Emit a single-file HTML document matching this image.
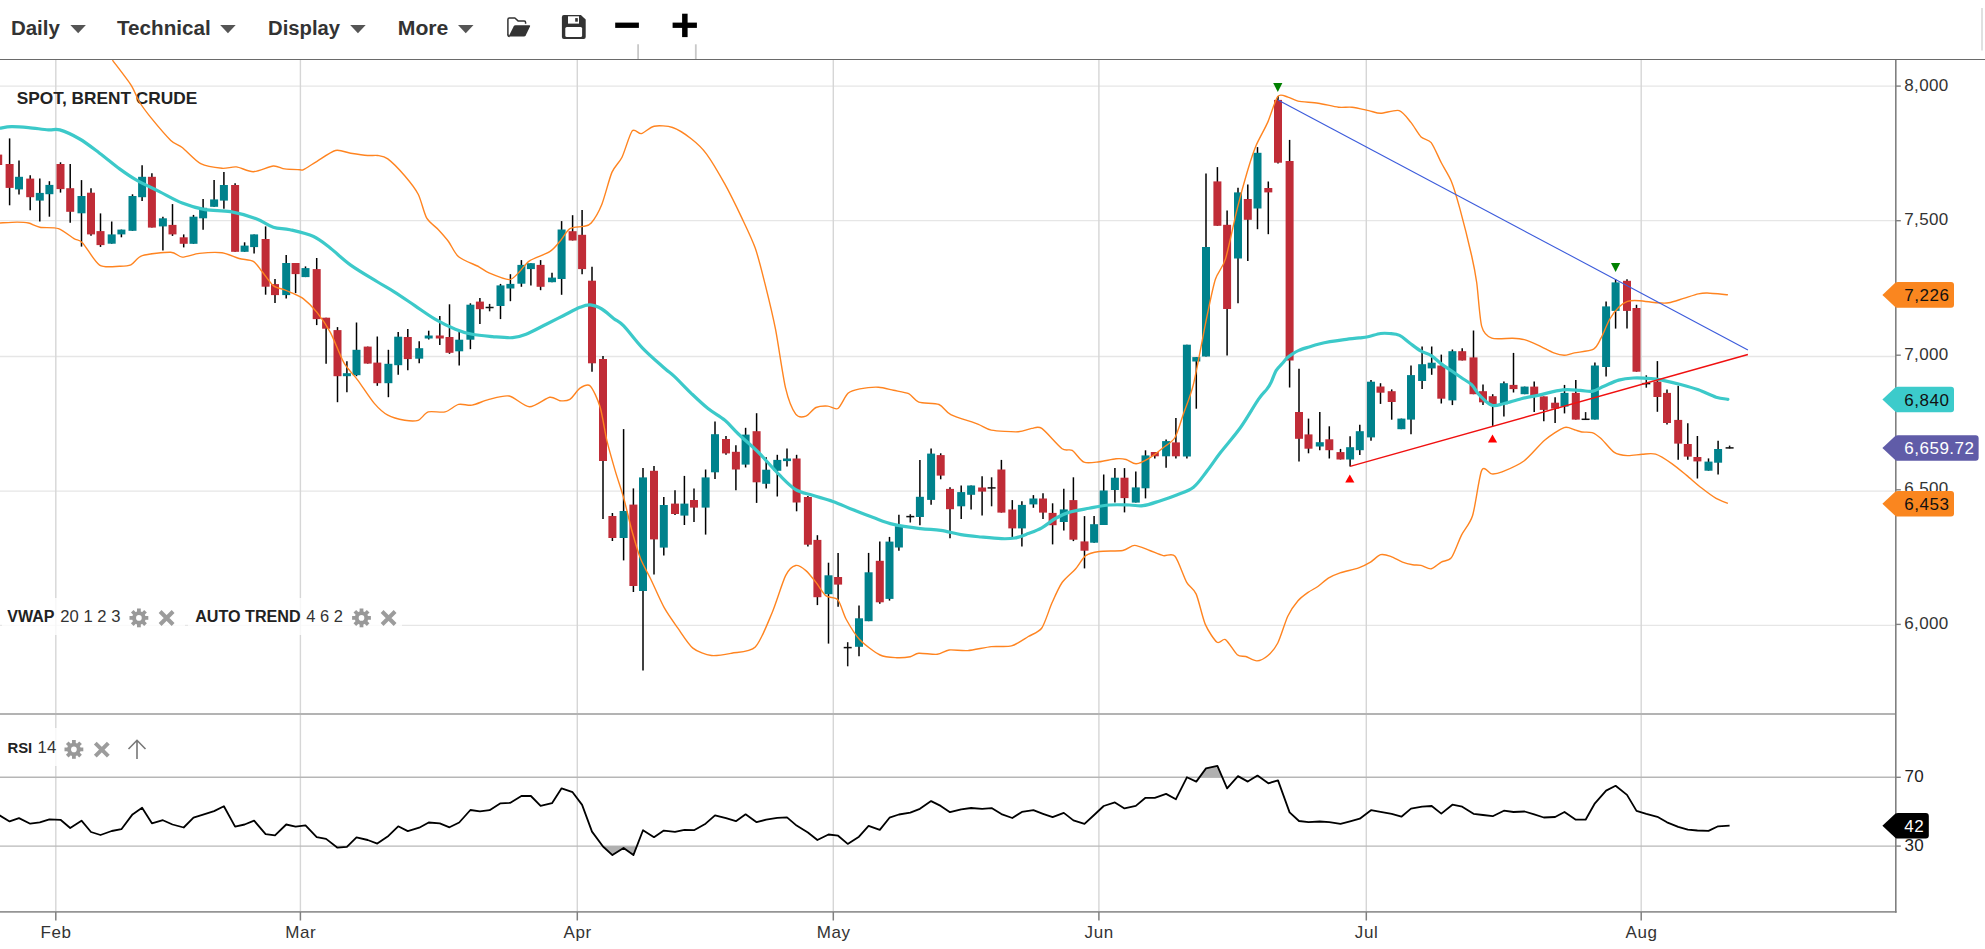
<!DOCTYPE html><html><head><meta charset="utf-8"><style>html,body{margin:0;padding:0;background:#fff;overflow:hidden;}svg{display:block;}text{font-family:"Liberation Sans",sans-serif;}</style></head><body>
<svg width="1985" height="949" viewBox="0 0 1985 949">
<rect width="1985" height="949" fill="#fff"/>
<line x1="0" y1="86.1" x2="1895.8" y2="86.1" stroke="#e6e6e6" stroke-width="1.4"/>
<line x1="0" y1="220.6" x2="1895.8" y2="220.6" stroke="#e6e6e6" stroke-width="1.4"/>
<line x1="0" y1="356.5" x2="1895.8" y2="356.5" stroke="#e6e6e6" stroke-width="1.4"/>
<line x1="0" y1="491.1" x2="1895.8" y2="491.1" stroke="#e6e6e6" stroke-width="1.4"/>
<line x1="0" y1="625.4" x2="1895.8" y2="625.4" stroke="#e6e6e6" stroke-width="1.4"/>
<line x1="55.8" y1="60" x2="55.8" y2="912" stroke="#d6d6d6" stroke-width="1.4"/>
<line x1="300.4" y1="60" x2="300.4" y2="912" stroke="#d6d6d6" stroke-width="1.4"/>
<line x1="577.3" y1="60" x2="577.3" y2="912" stroke="#d6d6d6" stroke-width="1.4"/>
<line x1="833.3" y1="60" x2="833.3" y2="912" stroke="#d6d6d6" stroke-width="1.4"/>
<line x1="1098.9" y1="60" x2="1098.9" y2="912" stroke="#d6d6d6" stroke-width="1.4"/>
<line x1="1366.3" y1="60" x2="1366.3" y2="912" stroke="#d6d6d6" stroke-width="1.4"/>
<line x1="1641.2" y1="60" x2="1641.2" y2="912" stroke="#d6d6d6" stroke-width="1.4"/>
<line x1="0" y1="777.3" x2="1895.8" y2="777.3" stroke="#b8b8b8" stroke-width="1.4"/>
<line x1="0" y1="846.1" x2="1895.8" y2="846.1" stroke="#b8b8b8" stroke-width="1.4"/>
<text x="16.8" y="104" font-size="17" font-weight="bold" fill="#222" textLength="180.5" lengthAdjust="spacingAndGlyphs">SPOT, BRENT CRUDE</text>
<line x1="-1.8" y1="152.0" x2="-1.8" y2="168.0" stroke="#000" stroke-width="1.5"/>
<rect x="-5.8" y="154.6" width="8" height="10.4" fill="#c02c37"/>
<line x1="9.6" y1="138.4" x2="9.6" y2="205.3" stroke="#000" stroke-width="1.5"/>
<rect x="5.6" y="164.0" width="8" height="23.9" fill="#c02c37"/>
<line x1="19.0" y1="160.6" x2="19.0" y2="194.5" stroke="#000" stroke-width="1.5"/>
<rect x="15.0" y="176.8" width="8" height="12.6" fill="#00828c"/>
<line x1="30.2" y1="175.3" x2="30.2" y2="210.3" stroke="#000" stroke-width="1.5"/>
<rect x="26.2" y="178.6" width="8" height="18.6" fill="#c02c37"/>
<line x1="39.8" y1="178.6" x2="39.8" y2="221.4" stroke="#000" stroke-width="1.5"/>
<rect x="35.8" y="192.9" width="8" height="7.7" fill="#00828c"/>
<line x1="49.4" y1="181.2" x2="49.4" y2="216.7" stroke="#000" stroke-width="1.5"/>
<rect x="45.4" y="184.9" width="8" height="9.3" fill="#00828c"/>
<line x1="60.5" y1="162.3" x2="60.5" y2="192.6" stroke="#000" stroke-width="1.5"/>
<rect x="56.5" y="164.0" width="8" height="25.1" fill="#c02c37"/>
<line x1="70.2" y1="164.0" x2="70.2" y2="222.8" stroke="#000" stroke-width="1.5"/>
<rect x="66.2" y="188.2" width="8" height="23.6" fill="#c02c37"/>
<line x1="81.5" y1="180.1" x2="81.5" y2="246.6" stroke="#000" stroke-width="1.5"/>
<rect x="77.5" y="196.0" width="8" height="17.3" fill="#00828c"/>
<line x1="91.0" y1="188.2" x2="91.0" y2="235.8" stroke="#000" stroke-width="1.5"/>
<rect x="87.0" y="192.7" width="8" height="41.7" fill="#c02c37"/>
<line x1="100.5" y1="213.4" x2="100.5" y2="246.9" stroke="#000" stroke-width="1.5"/>
<rect x="96.5" y="231.1" width="8" height="14.0" fill="#c02c37"/>
<line x1="111.7" y1="221.5" x2="111.7" y2="243.7" stroke="#000" stroke-width="1.5"/>
<rect x="107.7" y="234.4" width="8" height="9.3" fill="#00828c"/>
<line x1="121.4" y1="229.6" x2="121.4" y2="237.3" stroke="#000" stroke-width="1.5"/>
<rect x="117.4" y="229.6" width="8" height="4.8" fill="#00828c"/>
<line x1="132.5" y1="194.3" x2="132.5" y2="230.8" stroke="#000" stroke-width="1.5"/>
<rect x="128.5" y="196.0" width="8" height="34.8" fill="#00828c"/>
<line x1="142.1" y1="165.2" x2="142.1" y2="200.9" stroke="#000" stroke-width="1.5"/>
<rect x="138.1" y="176.8" width="8" height="20.4" fill="#00828c"/>
<line x1="151.9" y1="173.2" x2="151.9" y2="227.6" stroke="#000" stroke-width="1.5"/>
<rect x="147.9" y="176.8" width="8" height="50.8" fill="#c02c37"/>
<line x1="162.9" y1="216.7" x2="162.9" y2="250.6" stroke="#000" stroke-width="1.5"/>
<rect x="158.9" y="218.3" width="8" height="8.1" fill="#00828c"/>
<line x1="172.5" y1="204.1" x2="172.5" y2="235.9" stroke="#000" stroke-width="1.5"/>
<rect x="168.5" y="224.9" width="8" height="9.5" fill="#c02c37"/>
<line x1="183.7" y1="234.4" x2="183.7" y2="247.4" stroke="#000" stroke-width="1.5"/>
<rect x="179.7" y="237.3" width="8" height="6.5" fill="#c02c37"/>
<line x1="193.5" y1="214.9" x2="193.5" y2="243.8" stroke="#000" stroke-width="1.5"/>
<rect x="189.5" y="216.7" width="8" height="27.1" fill="#00828c"/>
<line x1="203.1" y1="199.1" x2="203.1" y2="229.7" stroke="#000" stroke-width="1.5"/>
<rect x="199.1" y="207.8" width="8" height="10.5" fill="#00828c"/>
<line x1="214.1" y1="179.9" x2="214.1" y2="206.8" stroke="#000" stroke-width="1.5"/>
<rect x="210.1" y="199.4" width="8" height="7.4" fill="#00828c"/>
<line x1="223.9" y1="172.1" x2="223.9" y2="208.7" stroke="#000" stroke-width="1.5"/>
<rect x="219.9" y="185.0" width="8" height="15.6" fill="#00828c"/>
<line x1="235.1" y1="183.2" x2="235.1" y2="251.8" stroke="#000" stroke-width="1.5"/>
<rect x="231.1" y="185.0" width="8" height="66.8" fill="#c02c37"/>
<line x1="244.6" y1="242.3" x2="244.6" y2="251.8" stroke="#000" stroke-width="1.5"/>
<rect x="240.6" y="245.6" width="8" height="6.2" fill="#00828c"/>
<line x1="254.1" y1="234.4" x2="254.1" y2="253.6" stroke="#000" stroke-width="1.5"/>
<rect x="250.1" y="234.4" width="8" height="12.7" fill="#00828c"/>
<line x1="265.6" y1="226.4" x2="265.6" y2="294.7" stroke="#000" stroke-width="1.5"/>
<rect x="261.6" y="239.0" width="8" height="47.7" fill="#c02c37"/>
<line x1="275.0" y1="279.1" x2="275.0" y2="303.1" stroke="#000" stroke-width="1.5"/>
<rect x="271.0" y="284.1" width="8" height="11.0" fill="#c02c37"/>
<line x1="286.2" y1="255.0" x2="286.2" y2="298.5" stroke="#000" stroke-width="1.5"/>
<rect x="282.2" y="263.0" width="8" height="32.1" fill="#00828c"/>
<line x1="295.6" y1="263.0" x2="295.6" y2="293.1" stroke="#000" stroke-width="1.5"/>
<rect x="291.6" y="263.0" width="8" height="11.1" fill="#c02c37"/>
<line x1="305.5" y1="266.4" x2="305.5" y2="277.1" stroke="#000" stroke-width="1.5"/>
<rect x="301.5" y="268.1" width="8" height="9.0" fill="#00828c"/>
<line x1="316.7" y1="258.0" x2="316.7" y2="325.1" stroke="#000" stroke-width="1.5"/>
<rect x="312.7" y="269.1" width="8" height="50.0" fill="#c02c37"/>
<line x1="326.1" y1="317.7" x2="326.1" y2="363.8" stroke="#000" stroke-width="1.5"/>
<rect x="322.1" y="317.7" width="8" height="11.0" fill="#c02c37"/>
<line x1="337.5" y1="327.1" x2="337.5" y2="402.2" stroke="#000" stroke-width="1.5"/>
<rect x="333.5" y="330.1" width="8" height="46.1" fill="#c02c37"/>
<line x1="346.9" y1="361.2" x2="346.9" y2="392.2" stroke="#000" stroke-width="1.5"/>
<rect x="342.9" y="373.2" width="8" height="3.0" fill="#00828c"/>
<line x1="356.5" y1="322.5" x2="356.5" y2="376.2" stroke="#000" stroke-width="1.5"/>
<rect x="352.5" y="349.8" width="8" height="25.4" fill="#00828c"/>
<line x1="367.7" y1="346.6" x2="367.7" y2="363.6" stroke="#000" stroke-width="1.5"/>
<rect x="363.7" y="346.6" width="8" height="17.0" fill="#c02c37"/>
<line x1="377.3" y1="336.5" x2="377.3" y2="385.8" stroke="#000" stroke-width="1.5"/>
<rect x="373.3" y="362.6" width="8" height="20.6" fill="#c02c37"/>
<line x1="388.4" y1="349.8" x2="388.4" y2="397.2" stroke="#000" stroke-width="1.5"/>
<rect x="384.4" y="363.8" width="8" height="19.4" fill="#00828c"/>
<line x1="398.2" y1="332.1" x2="398.2" y2="374.8" stroke="#000" stroke-width="1.5"/>
<rect x="394.2" y="336.7" width="8" height="28.5" fill="#00828c"/>
<line x1="407.8" y1="329.0" x2="407.8" y2="370.3" stroke="#000" stroke-width="1.5"/>
<rect x="403.8" y="337.0" width="8" height="22.1" fill="#c02c37"/>
<line x1="419.2" y1="341.2" x2="419.2" y2="363.3" stroke="#000" stroke-width="1.5"/>
<rect x="415.2" y="348.2" width="8" height="10.5" fill="#00828c"/>
<line x1="428.7" y1="330.7" x2="428.7" y2="339.5" stroke="#000" stroke-width="1.5"/>
<rect x="424.7" y="335.5" width="8" height="3.0" fill="#00828c"/>
<line x1="439.8" y1="315.9" x2="439.8" y2="345.0" stroke="#000" stroke-width="1.5"/>
<rect x="435.8" y="335.5" width="8" height="3.0" fill="#c02c37"/>
<line x1="449.5" y1="304.3" x2="449.5" y2="353.8" stroke="#000" stroke-width="1.5"/>
<rect x="445.5" y="337.0" width="8" height="15.8" fill="#c02c37"/>
<line x1="459.2" y1="331.7" x2="459.2" y2="365.4" stroke="#000" stroke-width="1.5"/>
<rect x="455.2" y="339.7" width="8" height="11.6" fill="#00828c"/>
<line x1="470.4" y1="303.3" x2="470.4" y2="349.2" stroke="#000" stroke-width="1.5"/>
<rect x="466.4" y="304.7" width="8" height="35.0" fill="#00828c"/>
<line x1="479.9" y1="298.0" x2="479.9" y2="323.9" stroke="#000" stroke-width="1.5"/>
<rect x="475.9" y="301.6" width="8" height="7.6" fill="#c02c37"/>
<line x1="489.6" y1="303.9" x2="489.6" y2="311.3" stroke="#111" stroke-width="1.5"/>
<line x1="485.6" y1="307.5" x2="493.6" y2="307.5" stroke="#111" stroke-width="1.5"/>
<line x1="500.5" y1="283.9" x2="500.5" y2="319.1" stroke="#000" stroke-width="1.5"/>
<rect x="496.5" y="285.4" width="8" height="20.6" fill="#00828c"/>
<line x1="510.4" y1="274.2" x2="510.4" y2="301.2" stroke="#000" stroke-width="1.5"/>
<rect x="506.4" y="283.9" width="8" height="4.6" fill="#00828c"/>
<line x1="521.4" y1="260.1" x2="521.4" y2="286.8" stroke="#000" stroke-width="1.5"/>
<rect x="517.4" y="264.9" width="8" height="18.8" fill="#00828c"/>
<line x1="530.9" y1="263.2" x2="530.9" y2="285.4" stroke="#000" stroke-width="1.5"/>
<rect x="526.9" y="263.2" width="8" height="5.9" fill="#00828c"/>
<line x1="540.6" y1="260.1" x2="540.6" y2="290.2" stroke="#000" stroke-width="1.5"/>
<rect x="536.6" y="264.9" width="8" height="21.9" fill="#c02c37"/>
<line x1="552.0" y1="272.7" x2="552.0" y2="282.2" stroke="#000" stroke-width="1.5"/>
<rect x="548.0" y="277.6" width="8" height="4.6" fill="#00828c"/>
<line x1="561.6" y1="221.1" x2="561.6" y2="294.8" stroke="#000" stroke-width="1.5"/>
<rect x="557.6" y="229.5" width="8" height="49.5" fill="#00828c"/>
<line x1="572.6" y1="215.2" x2="572.6" y2="240.5" stroke="#000" stroke-width="1.5"/>
<rect x="568.6" y="231.2" width="8" height="9.3" fill="#c02c37"/>
<line x1="582.1" y1="210.1" x2="582.1" y2="274.2" stroke="#000" stroke-width="1.5"/>
<rect x="578.1" y="234.8" width="8" height="34.3" fill="#c02c37"/>
<line x1="592.0" y1="266.8" x2="592.0" y2="371.8" stroke="#000" stroke-width="1.5"/>
<rect x="588.0" y="280.7" width="8" height="82.6" fill="#c02c37"/>
<line x1="603.0" y1="356.1" x2="603.0" y2="519.0" stroke="#000" stroke-width="1.5"/>
<rect x="599.0" y="359.0" width="8" height="102.0" fill="#c02c37"/>
<line x1="612.4" y1="513.0" x2="612.4" y2="541.0" stroke="#000" stroke-width="1.5"/>
<rect x="608.4" y="516.0" width="8" height="22.0" fill="#c02c37"/>
<line x1="623.6" y1="429.1" x2="623.6" y2="560.4" stroke="#000" stroke-width="1.5"/>
<rect x="619.6" y="511.0" width="8" height="27.0" fill="#00828c"/>
<line x1="633.4" y1="488.4" x2="633.4" y2="592.0" stroke="#000" stroke-width="1.5"/>
<rect x="629.4" y="504.6" width="8" height="81.4" fill="#c02c37"/>
<line x1="643.0" y1="468.0" x2="643.0" y2="670.6" stroke="#000" stroke-width="1.5"/>
<rect x="639.0" y="477.4" width="8" height="113.6" fill="#00828c"/>
<line x1="654.0" y1="466.1" x2="654.0" y2="574.6" stroke="#000" stroke-width="1.5"/>
<rect x="650.0" y="470.8" width="8" height="68.6" fill="#c02c37"/>
<line x1="663.8" y1="497.0" x2="663.8" y2="555.6" stroke="#000" stroke-width="1.5"/>
<rect x="659.8" y="505.0" width="8" height="42.6" fill="#00828c"/>
<line x1="675.0" y1="490.3" x2="675.0" y2="515.0" stroke="#000" stroke-width="1.5"/>
<rect x="671.0" y="503.6" width="8" height="10.4" fill="#c02c37"/>
<line x1="684.4" y1="475.9" x2="684.4" y2="525.0" stroke="#000" stroke-width="1.5"/>
<rect x="680.4" y="503.6" width="8" height="12.0" fill="#00828c"/>
<line x1="694.0" y1="488.4" x2="694.0" y2="522.0" stroke="#000" stroke-width="1.5"/>
<rect x="690.0" y="500.0" width="8" height="7.6" fill="#c02c37"/>
<line x1="705.6" y1="469.5" x2="705.6" y2="534.6" stroke="#000" stroke-width="1.5"/>
<rect x="701.6" y="477.4" width="8" height="30.2" fill="#00828c"/>
<line x1="715.0" y1="421.5" x2="715.0" y2="479.0" stroke="#000" stroke-width="1.5"/>
<rect x="711.0" y="434.2" width="8" height="38.1" fill="#00828c"/>
<line x1="726.0" y1="436.1" x2="726.0" y2="454.7" stroke="#000" stroke-width="1.5"/>
<rect x="722.0" y="439.0" width="8" height="14.4" fill="#c02c37"/>
<line x1="735.9" y1="445.2" x2="735.9" y2="490.3" stroke="#000" stroke-width="1.5"/>
<rect x="731.9" y="451.8" width="8" height="17.7" fill="#c02c37"/>
<line x1="745.6" y1="427.8" x2="745.6" y2="467.5" stroke="#000" stroke-width="1.5"/>
<rect x="741.6" y="434.6" width="8" height="30.0" fill="#00828c"/>
<line x1="756.6" y1="413.2" x2="756.6" y2="502.9" stroke="#000" stroke-width="1.5"/>
<rect x="752.6" y="431.2" width="8" height="51.1" fill="#c02c37"/>
<line x1="766.2" y1="457.3" x2="766.2" y2="488.5" stroke="#000" stroke-width="1.5"/>
<rect x="762.2" y="469.7" width="8" height="14.1" fill="#00828c"/>
<line x1="777.3" y1="454.8" x2="777.3" y2="496.5" stroke="#000" stroke-width="1.5"/>
<rect x="773.3" y="459.9" width="8" height="10.9" fill="#00828c"/>
<line x1="787.0" y1="448.6" x2="787.0" y2="466.6" stroke="#000" stroke-width="1.5"/>
<rect x="783.0" y="458.5" width="8" height="2.6" fill="#00828c"/>
<line x1="796.6" y1="454.8" x2="796.6" y2="511.3" stroke="#000" stroke-width="1.5"/>
<rect x="792.6" y="458.5" width="8" height="44.0" fill="#c02c37"/>
<line x1="807.9" y1="496.1" x2="807.9" y2="546.4" stroke="#000" stroke-width="1.5"/>
<rect x="803.9" y="497.0" width="8" height="47.7" fill="#c02c37"/>
<line x1="817.4" y1="535.2" x2="817.4" y2="605.1" stroke="#000" stroke-width="1.5"/>
<rect x="813.4" y="539.9" width="8" height="57.3" fill="#c02c37"/>
<line x1="828.5" y1="562.7" x2="828.5" y2="643.6" stroke="#000" stroke-width="1.5"/>
<rect x="824.5" y="575.3" width="8" height="18.9" fill="#00828c"/>
<line x1="838.1" y1="552.9" x2="838.1" y2="606.8" stroke="#000" stroke-width="1.5"/>
<rect x="834.1" y="577.0" width="8" height="7.6" fill="#c02c37"/>
<line x1="847.7" y1="642.2" x2="847.7" y2="666.3" stroke="#111" stroke-width="1.5"/>
<line x1="843.7" y1="647.6" x2="851.7" y2="647.6" stroke="#111" stroke-width="1.5"/>
<line x1="859.0" y1="605.5" x2="859.0" y2="656.2" stroke="#000" stroke-width="1.5"/>
<rect x="855.0" y="618.3" width="8" height="28.5" fill="#00828c"/>
<line x1="868.6" y1="552.9" x2="868.6" y2="621.2" stroke="#000" stroke-width="1.5"/>
<rect x="864.6" y="572.3" width="8" height="48.9" fill="#00828c"/>
<line x1="879.8" y1="541.6" x2="879.8" y2="603.8" stroke="#000" stroke-width="1.5"/>
<rect x="875.8" y="560.8" width="8" height="41.5" fill="#c02c37"/>
<line x1="889.5" y1="536.9" x2="889.5" y2="600.6" stroke="#000" stroke-width="1.5"/>
<rect x="885.5" y="541.6" width="8" height="57.3" fill="#00828c"/>
<line x1="898.9" y1="514.7" x2="898.9" y2="550.8" stroke="#000" stroke-width="1.5"/>
<rect x="894.9" y="526.2" width="8" height="21.3" fill="#00828c"/>
<line x1="910.3" y1="514.2" x2="910.3" y2="522.5" stroke="#111" stroke-width="1.5"/>
<line x1="906.3" y1="516.6" x2="914.3" y2="516.6" stroke="#111" stroke-width="1.5"/>
<line x1="919.9" y1="460.1" x2="919.9" y2="525.2" stroke="#000" stroke-width="1.5"/>
<rect x="915.9" y="496.8" width="8" height="20.2" fill="#00828c"/>
<line x1="931.1" y1="448.5" x2="931.1" y2="504.7" stroke="#000" stroke-width="1.5"/>
<rect x="927.1" y="453.6" width="8" height="46.3" fill="#00828c"/>
<line x1="940.7" y1="453.3" x2="940.7" y2="479.3" stroke="#000" stroke-width="1.5"/>
<rect x="936.7" y="455.1" width="8" height="20.5" fill="#c02c37"/>
<line x1="950.0" y1="487.3" x2="950.0" y2="538.2" stroke="#000" stroke-width="1.5"/>
<rect x="946.0" y="488.9" width="8" height="20.3" fill="#c02c37"/>
<line x1="961.2" y1="485.5" x2="961.2" y2="519.0" stroke="#000" stroke-width="1.5"/>
<rect x="957.2" y="492.1" width="8" height="14.2" fill="#00828c"/>
<line x1="971.1" y1="485.5" x2="971.1" y2="509.5" stroke="#000" stroke-width="1.5"/>
<rect x="967.1" y="485.5" width="8" height="9.3" fill="#00828c"/>
<line x1="982.1" y1="476.2" x2="982.1" y2="515.6" stroke="#000" stroke-width="1.5"/>
<rect x="978.1" y="487.5" width="8" height="4.1" fill="#c02c37"/>
<line x1="991.6" y1="477.3" x2="991.6" y2="506.3" stroke="#111" stroke-width="1.5"/>
<line x1="987.6" y1="487.9" x2="995.6" y2="487.9" stroke="#111" stroke-width="1.5"/>
<line x1="1001.4" y1="459.9" x2="1001.4" y2="512.6" stroke="#000" stroke-width="1.5"/>
<rect x="997.4" y="469.5" width="8" height="43.1" fill="#c02c37"/>
<line x1="1012.3" y1="500.1" x2="1012.3" y2="537.1" stroke="#000" stroke-width="1.5"/>
<rect x="1008.3" y="509.5" width="8" height="18.9" fill="#c02c37"/>
<line x1="1021.9" y1="501.2" x2="1021.9" y2="546.4" stroke="#000" stroke-width="1.5"/>
<rect x="1017.9" y="504.9" width="8" height="23.5" fill="#00828c"/>
<line x1="1033.4" y1="495.1" x2="1033.4" y2="507.8" stroke="#000" stroke-width="1.5"/>
<rect x="1029.4" y="498.5" width="8" height="5.9" fill="#00828c"/>
<line x1="1043.0" y1="493.3" x2="1043.0" y2="519.0" stroke="#000" stroke-width="1.5"/>
<rect x="1039.0" y="498.5" width="8" height="14.1" fill="#c02c37"/>
<line x1="1052.6" y1="503.3" x2="1052.6" y2="544.4" stroke="#000" stroke-width="1.5"/>
<rect x="1048.6" y="512.9" width="8" height="12.3" fill="#c02c37"/>
<line x1="1063.8" y1="488.8" x2="1063.8" y2="530.4" stroke="#000" stroke-width="1.5"/>
<rect x="1059.8" y="509.4" width="8" height="12.6" fill="#00828c"/>
<line x1="1073.4" y1="477.3" x2="1073.4" y2="541.1" stroke="#000" stroke-width="1.5"/>
<rect x="1069.4" y="500.1" width="8" height="39.6" fill="#c02c37"/>
<line x1="1084.5" y1="516.1" x2="1084.5" y2="568.4" stroke="#000" stroke-width="1.5"/>
<rect x="1080.5" y="541.4" width="8" height="9.3" fill="#c02c37"/>
<line x1="1094.1" y1="516.1" x2="1094.1" y2="542.7" stroke="#000" stroke-width="1.5"/>
<rect x="1090.1" y="524.2" width="8" height="18.5" fill="#00828c"/>
<line x1="1103.7" y1="474.5" x2="1103.7" y2="525.0" stroke="#000" stroke-width="1.5"/>
<rect x="1099.7" y="490.5" width="8" height="34.5" fill="#00828c"/>
<line x1="1114.9" y1="468.1" x2="1114.9" y2="502.6" stroke="#000" stroke-width="1.5"/>
<rect x="1110.9" y="477.7" width="8" height="12.3" fill="#00828c"/>
<line x1="1124.5" y1="468.1" x2="1124.5" y2="512.4" stroke="#000" stroke-width="1.5"/>
<rect x="1120.5" y="477.7" width="8" height="20.4" fill="#c02c37"/>
<line x1="1135.8" y1="471.4" x2="1135.8" y2="502.6" stroke="#000" stroke-width="1.5"/>
<rect x="1131.8" y="487.4" width="8" height="15.2" fill="#00828c"/>
<line x1="1145.5" y1="450.3" x2="1145.5" y2="498.4" stroke="#000" stroke-width="1.5"/>
<rect x="1141.5" y="455.4" width="8" height="32.9" fill="#00828c"/>
<line x1="1154.8" y1="452.0" x2="1154.8" y2="458.4" stroke="#000" stroke-width="1.5"/>
<rect x="1150.8" y="452.0" width="8" height="4.3" fill="#c02c37"/>
<line x1="1166.1" y1="439.4" x2="1166.1" y2="467.7" stroke="#000" stroke-width="1.5"/>
<rect x="1162.1" y="441.1" width="8" height="15.2" fill="#00828c"/>
<line x1="1175.9" y1="418.0" x2="1175.9" y2="458.4" stroke="#000" stroke-width="1.5"/>
<rect x="1171.9" y="442.4" width="8" height="13.9" fill="#c02c37"/>
<line x1="1186.9" y1="344.7" x2="1186.9" y2="458.4" stroke="#000" stroke-width="1.5"/>
<rect x="1182.9" y="344.7" width="8" height="111.8" fill="#00828c"/>
<line x1="1196.3" y1="357.1" x2="1196.3" y2="408.7" stroke="#000" stroke-width="1.5"/>
<rect x="1192.3" y="357.1" width="8" height="4.4" fill="#00828c"/>
<line x1="1206.0" y1="173.6" x2="1206.0" y2="356.5" stroke="#000" stroke-width="1.5"/>
<rect x="1202.0" y="247.0" width="8" height="109.5" fill="#00828c"/>
<line x1="1217.4" y1="167.1" x2="1217.4" y2="225.8" stroke="#000" stroke-width="1.5"/>
<rect x="1213.4" y="181.4" width="8" height="44.4" fill="#c02c37"/>
<line x1="1227.1" y1="210.5" x2="1227.1" y2="355.5" stroke="#000" stroke-width="1.5"/>
<rect x="1223.1" y="224.8" width="8" height="84.2" fill="#c02c37"/>
<line x1="1238.0" y1="187.8" x2="1238.0" y2="303.2" stroke="#000" stroke-width="1.5"/>
<rect x="1234.0" y="192.4" width="8" height="66.1" fill="#00828c"/>
<line x1="1247.8" y1="184.5" x2="1247.8" y2="261.1" stroke="#000" stroke-width="1.5"/>
<rect x="1243.8" y="199.0" width="8" height="20.8" fill="#c02c37"/>
<line x1="1257.5" y1="147.1" x2="1257.5" y2="229.2" stroke="#000" stroke-width="1.5"/>
<rect x="1253.5" y="152.8" width="8" height="55.7" fill="#00828c"/>
<line x1="1268.3" y1="181.5" x2="1268.3" y2="234.2" stroke="#000" stroke-width="1.5"/>
<rect x="1264.3" y="188.0" width="8" height="4.4" fill="#c02c37"/>
<line x1="1278.0" y1="96.0" x2="1278.0" y2="163.5" stroke="#000" stroke-width="1.5"/>
<rect x="1274.0" y="99.9" width="8" height="62.8" fill="#c02c37"/>
<line x1="1289.6" y1="139.9" x2="1289.6" y2="387.5" stroke="#000" stroke-width="1.5"/>
<rect x="1285.6" y="161.0" width="8" height="199.5" fill="#c02c37"/>
<line x1="1299.0" y1="368.8" x2="1299.0" y2="461.4" stroke="#000" stroke-width="1.5"/>
<rect x="1295.0" y="412.0" width="8" height="26.8" fill="#c02c37"/>
<line x1="1308.5" y1="418.6" x2="1308.5" y2="453.3" stroke="#000" stroke-width="1.5"/>
<rect x="1304.5" y="434.4" width="8" height="14.3" fill="#c02c37"/>
<line x1="1319.8" y1="412.0" x2="1319.8" y2="450.3" stroke="#000" stroke-width="1.5"/>
<rect x="1315.8" y="442.2" width="8" height="4.3" fill="#00828c"/>
<line x1="1329.3" y1="426.3" x2="1329.3" y2="458.5" stroke="#000" stroke-width="1.5"/>
<rect x="1325.3" y="439.3" width="8" height="10.9" fill="#c02c37"/>
<line x1="1340.5" y1="448.9" x2="1340.5" y2="459.5" stroke="#000" stroke-width="1.5"/>
<rect x="1336.5" y="452.1" width="8" height="7.4" fill="#c02c37"/>
<line x1="1350.1" y1="436.2" x2="1350.1" y2="466.6" stroke="#000" stroke-width="1.5"/>
<rect x="1346.1" y="447.2" width="8" height="12.3" fill="#00828c"/>
<line x1="1359.8" y1="424.8" x2="1359.8" y2="455.1" stroke="#000" stroke-width="1.5"/>
<rect x="1355.8" y="431.2" width="8" height="19.0" fill="#00828c"/>
<line x1="1371.0" y1="380.1" x2="1371.0" y2="440.8" stroke="#000" stroke-width="1.5"/>
<rect x="1367.0" y="381.7" width="8" height="55.7" fill="#00828c"/>
<line x1="1380.5" y1="383.2" x2="1380.5" y2="403.9" stroke="#000" stroke-width="1.5"/>
<rect x="1376.5" y="386.5" width="8" height="6.2" fill="#c02c37"/>
<line x1="1391.7" y1="389.4" x2="1391.7" y2="419.7" stroke="#000" stroke-width="1.5"/>
<rect x="1387.7" y="391.2" width="8" height="10.8" fill="#c02c37"/>
<line x1="1401.4" y1="418.6" x2="1401.4" y2="429.2" stroke="#000" stroke-width="1.5"/>
<rect x="1397.4" y="418.6" width="8" height="10.6" fill="#00828c"/>
<line x1="1411.0" y1="365.5" x2="1411.0" y2="434.2" stroke="#000" stroke-width="1.5"/>
<rect x="1407.0" y="375.1" width="8" height="44.5" fill="#00828c"/>
<line x1="1422.1" y1="346.5" x2="1422.1" y2="389.1" stroke="#000" stroke-width="1.5"/>
<rect x="1418.1" y="364.2" width="8" height="16.8" fill="#00828c"/>
<line x1="1431.7" y1="346.5" x2="1431.7" y2="374.8" stroke="#000" stroke-width="1.5"/>
<rect x="1427.7" y="362.7" width="8" height="5.7" fill="#00828c"/>
<line x1="1441.3" y1="354.6" x2="1441.3" y2="403.5" stroke="#000" stroke-width="1.5"/>
<rect x="1437.3" y="365.5" width="8" height="33.2" fill="#c02c37"/>
<line x1="1452.4" y1="349.5" x2="1452.4" y2="405.1" stroke="#000" stroke-width="1.5"/>
<rect x="1448.4" y="351.2" width="8" height="49.2" fill="#00828c"/>
<line x1="1462.2" y1="348.2" x2="1462.2" y2="360.5" stroke="#000" stroke-width="1.5"/>
<rect x="1458.2" y="351.2" width="8" height="9.3" fill="#c02c37"/>
<line x1="1473.5" y1="330.5" x2="1473.5" y2="394.2" stroke="#000" stroke-width="1.5"/>
<rect x="1469.5" y="357.4" width="8" height="36.8" fill="#c02c37"/>
<line x1="1483.0" y1="384.6" x2="1483.0" y2="405.1" stroke="#000" stroke-width="1.5"/>
<rect x="1479.0" y="391.2" width="8" height="11.1" fill="#c02c37"/>
<line x1="1492.7" y1="394.2" x2="1492.7" y2="425.9" stroke="#000" stroke-width="1.5"/>
<rect x="1488.7" y="396.2" width="8" height="8.1" fill="#c02c37"/>
<line x1="1503.9" y1="381.5" x2="1503.9" y2="416.4" stroke="#000" stroke-width="1.5"/>
<rect x="1499.9" y="383.2" width="8" height="21.1" fill="#00828c"/>
<line x1="1513.5" y1="352.9" x2="1513.5" y2="392.5" stroke="#000" stroke-width="1.5"/>
<rect x="1509.5" y="384.9" width="8" height="4.2" fill="#c02c37"/>
<line x1="1524.6" y1="386.6" x2="1524.6" y2="394.2" stroke="#000" stroke-width="1.5"/>
<rect x="1520.6" y="386.6" width="8" height="7.6" fill="#00828c"/>
<line x1="1534.2" y1="381.5" x2="1534.2" y2="411.9" stroke="#000" stroke-width="1.5"/>
<rect x="1530.2" y="386.6" width="8" height="9.8" fill="#c02c37"/>
<line x1="1543.8" y1="396.4" x2="1543.8" y2="421.2" stroke="#000" stroke-width="1.5"/>
<rect x="1539.8" y="396.4" width="8" height="13.5" fill="#c02c37"/>
<line x1="1555.1" y1="397.3" x2="1555.1" y2="423.0" stroke="#000" stroke-width="1.5"/>
<rect x="1551.1" y="402.7" width="8" height="5.9" fill="#c02c37"/>
<line x1="1564.5" y1="384.9" x2="1564.5" y2="413.4" stroke="#000" stroke-width="1.5"/>
<rect x="1560.5" y="392.9" width="8" height="13.7" fill="#00828c"/>
<line x1="1575.8" y1="380.1" x2="1575.8" y2="419.6" stroke="#000" stroke-width="1.5"/>
<rect x="1571.8" y="392.9" width="8" height="26.7" fill="#c02c37"/>
<line x1="1585.6" y1="412.1" x2="1585.6" y2="419.3" stroke="#111" stroke-width="1.5"/>
<line x1="1581.6" y1="419.3" x2="1589.6" y2="419.3" stroke="#111" stroke-width="1.5"/>
<line x1="1594.9" y1="362.5" x2="1594.9" y2="419.6" stroke="#000" stroke-width="1.5"/>
<rect x="1590.9" y="365.5" width="8" height="54.1" fill="#00828c"/>
<line x1="1606.1" y1="301.4" x2="1606.1" y2="376.4" stroke="#000" stroke-width="1.5"/>
<rect x="1602.1" y="306.4" width="8" height="60.6" fill="#00828c"/>
<line x1="1615.6" y1="279.2" x2="1615.6" y2="328.6" stroke="#000" stroke-width="1.5"/>
<rect x="1611.6" y="282.4" width="8" height="28.5" fill="#00828c"/>
<line x1="1627.0" y1="279.2" x2="1627.0" y2="328.6" stroke="#000" stroke-width="1.5"/>
<rect x="1623.0" y="280.8" width="8" height="30.1" fill="#c02c37"/>
<line x1="1636.5" y1="304.8" x2="1636.5" y2="371.7" stroke="#000" stroke-width="1.5"/>
<rect x="1632.5" y="308.0" width="8" height="63.7" fill="#c02c37"/>
<line x1="1646.3" y1="375.3" x2="1646.3" y2="387.7" stroke="#111" stroke-width="1.5"/>
<line x1="1642.3" y1="383.6" x2="1650.3" y2="383.6" stroke="#111" stroke-width="1.5"/>
<line x1="1657.4" y1="361.1" x2="1657.4" y2="411.8" stroke="#000" stroke-width="1.5"/>
<rect x="1653.4" y="381.6" width="8" height="15.4" fill="#c02c37"/>
<line x1="1667.0" y1="389.5" x2="1667.0" y2="424.4" stroke="#000" stroke-width="1.5"/>
<rect x="1663.0" y="392.9" width="8" height="30.1" fill="#c02c37"/>
<line x1="1678.2" y1="385.8" x2="1678.2" y2="459.7" stroke="#000" stroke-width="1.5"/>
<rect x="1674.2" y="419.9" width="8" height="23.7" fill="#c02c37"/>
<line x1="1687.8" y1="423.3" x2="1687.8" y2="459.7" stroke="#000" stroke-width="1.5"/>
<rect x="1683.8" y="444.0" width="8" height="12.6" fill="#c02c37"/>
<line x1="1697.4" y1="436.0" x2="1697.4" y2="478.5" stroke="#000" stroke-width="1.5"/>
<rect x="1693.4" y="457.0" width="8" height="4.4" fill="#c02c37"/>
<line x1="1708.5" y1="458.4" x2="1708.5" y2="470.7" stroke="#000" stroke-width="1.5"/>
<rect x="1704.5" y="461.6" width="8" height="9.1" fill="#00828c"/>
<line x1="1718.1" y1="440.8" x2="1718.1" y2="474.4" stroke="#000" stroke-width="1.5"/>
<rect x="1714.1" y="449.0" width="8" height="13.7" fill="#00828c"/>
<line x1="1729.6" y1="445.6" x2="1729.6" y2="448.4" stroke="#111" stroke-width="1.5"/>
<line x1="1725.6" y1="447.9" x2="1733.6" y2="447.9" stroke="#111" stroke-width="1.5"/>
<path d="M112.40,60.10 C114.87,63.41 127.29,79.31 130.90,84.90 C134.51,90.49 136.83,97.64 139.50,102.00 C142.17,106.36 146.73,112.48 150.90,117.60 C155.07,122.72 166.63,136.41 170.80,140.40 C174.97,144.39 178.21,144.39 182.20,147.50 C186.19,150.61 195.39,160.93 200.70,163.70 C206.01,166.47 217.25,167.87 222.00,168.30 C226.75,168.73 232.13,166.45 236.30,166.90 C240.47,167.35 248.37,171.82 253.30,171.70 C258.23,171.58 269.11,166.37 273.30,166.00 C277.49,165.63 281.14,168.41 284.70,168.90 C288.26,169.39 297.49,169.59 300.00,169.70 C302.51,169.81 301.23,170.82 303.50,169.70 C305.77,168.58 312.73,163.86 317.00,161.30 C321.27,158.74 331.01,151.58 335.50,150.50 C339.99,149.42 346.42,152.53 350.70,153.20 C354.98,153.87 364.00,155.19 367.60,155.50 C371.20,155.81 375.01,155.05 377.70,155.50 C380.39,155.95 384.20,156.19 387.80,158.90 C391.40,161.61 400.65,171.08 404.70,175.80 C408.75,180.52 415.28,188.69 418.20,194.30 C421.12,199.91 423.91,213.18 426.60,217.90 C429.29,222.62 435.48,226.55 438.40,229.70 C441.32,232.85 445.81,237.90 448.50,241.50 C451.19,245.10 454.55,253.33 458.60,256.70 C462.65,260.07 474.85,264.64 478.90,266.80 C482.95,268.96 484.96,271.19 489.00,272.90 C493.04,274.61 505.16,279.73 509.20,279.60 C513.24,279.47 516.59,274.41 519.30,271.90 C522.01,269.39 525.45,263.49 529.50,260.80 C533.55,258.11 545.66,254.27 549.70,251.70 C553.74,249.13 557.11,244.57 559.80,241.50 C562.49,238.43 566.75,230.71 569.90,228.70 C573.05,226.69 580.56,227.16 583.40,226.40 C586.24,225.64 588.75,225.93 591.20,223.00 C593.65,220.07 599.04,211.15 601.80,204.40 C604.56,197.65 609.21,178.69 611.90,172.40 C614.59,166.11 619.29,162.73 622.00,157.20 C624.71,151.67 629.63,134.05 632.20,130.90 C634.77,127.75 638.38,134.23 641.30,133.60 C644.22,132.97 649.93,127.01 654.10,126.20 C658.27,125.39 667.65,125.83 672.60,127.50 C677.55,129.17 686.69,135.19 691.20,138.70 C695.71,142.21 701.91,147.73 706.40,153.80 C710.89,159.87 720.18,175.65 724.90,184.20 C729.62,192.75 737.75,209.35 741.80,217.90 C745.85,226.45 752.15,239.30 755.30,248.30 C758.45,257.30 762.71,274.61 765.40,285.40 C768.09,296.19 772.81,315.49 775.50,329.20 C778.19,342.91 782.91,376.87 785.60,388.20 C788.29,399.53 792.99,410.47 795.70,414.20 C798.41,417.93 803.19,417.09 805.90,416.20 C808.61,415.31 813.08,408.85 816.00,407.50 C818.92,406.15 824.88,405.97 827.80,406.10 C830.72,406.23 835.21,410.21 837.90,408.50 C840.59,406.79 845.08,395.91 848.00,393.30 C850.92,390.69 855.75,389.71 859.80,388.90 C863.85,388.09 873.91,387.01 878.40,387.20 C882.89,387.39 889.46,389.43 893.50,390.30 C897.54,391.17 905.33,392.13 908.70,393.70 C912.07,395.27 914.76,400.66 918.80,402.10 C922.84,403.54 934.73,402.83 939.00,404.50 C943.27,406.17 945.63,411.99 950.80,414.60 C955.97,417.21 972.40,422.03 977.80,424.10 C983.20,426.17 985.91,429.07 991.30,430.10 C996.69,431.13 1012.81,432.03 1018.20,431.80 C1023.59,431.57 1028.55,428.85 1031.70,428.40 C1034.85,427.95 1037.75,425.69 1041.80,428.40 C1045.85,431.11 1058.05,445.77 1062.10,448.70 C1066.15,451.63 1069.28,448.60 1072.20,450.40 C1075.12,452.20 1080.40,460.68 1084.00,462.20 C1087.60,463.72 1094.93,462.25 1099.20,461.80 C1103.47,461.35 1112.41,459.11 1116.00,458.80 C1119.59,458.49 1123.41,458.83 1126.10,459.50 C1128.79,460.17 1133.05,464.03 1136.20,463.80 C1139.35,463.57 1146.10,459.95 1149.70,457.80 C1153.30,455.65 1159.83,450.41 1163.20,447.70 C1166.57,444.99 1172.31,442.01 1175.00,437.50 C1177.69,432.99 1180.92,421.09 1183.40,413.90 C1185.88,406.71 1190.45,396.63 1193.60,383.60 C1196.75,370.57 1204.09,330.12 1207.00,316.20 C1209.91,302.28 1212.93,286.84 1215.40,279.20 C1217.87,271.56 1222.58,268.34 1225.50,258.90 C1228.42,249.46 1234.38,220.08 1237.30,208.40 C1240.22,196.72 1244.92,179.62 1247.40,171.30 C1249.88,162.98 1253.19,152.52 1255.90,146.00 C1258.61,139.48 1264.78,129.01 1267.70,122.40 C1270.62,115.79 1275.11,99.77 1277.80,96.40 C1280.49,93.03 1285.21,96.47 1287.90,97.10 C1290.59,97.73 1293.96,100.29 1298.00,101.10 C1302.04,101.91 1312.80,102.39 1318.20,103.20 C1323.60,104.01 1333.99,106.67 1338.50,107.20 C1343.01,107.73 1347.96,106.75 1352.00,107.20 C1356.04,107.65 1364.99,109.79 1368.80,110.60 C1372.61,111.41 1376.55,113.30 1380.60,113.30 C1384.65,113.30 1395.16,109.39 1399.20,110.60 C1403.24,111.81 1407.98,118.89 1410.90,122.40 C1413.82,125.91 1418.39,134.21 1421.10,136.90 C1423.81,139.59 1428.51,139.15 1431.20,142.60 C1433.89,146.05 1438.61,157.63 1441.30,162.80 C1443.99,167.97 1448.93,175.32 1451.40,181.40 C1453.87,187.48 1457.11,198.52 1459.80,208.40 C1462.49,218.28 1469.35,245.62 1471.60,255.50 C1473.85,265.38 1475.35,273.05 1476.70,282.50 C1478.05,291.95 1479.69,318.97 1481.70,326.40 C1483.71,333.83 1487.69,336.63 1491.80,338.20 C1495.91,339.77 1508.17,338.00 1512.50,338.20 C1516.83,338.40 1520.77,338.71 1524.30,339.70 C1527.83,340.69 1535.07,343.84 1539.00,345.60 C1542.93,347.36 1550.45,351.61 1553.80,352.90 C1557.15,354.19 1561.35,355.30 1564.10,355.30 C1566.85,355.30 1570.47,353.73 1574.40,352.90 C1578.33,352.07 1590.05,351.06 1593.60,349.10 C1597.15,347.14 1598.84,342.21 1601.00,338.20 C1603.16,334.19 1607.44,323.13 1609.80,319.00 C1612.16,314.87 1616.34,309.56 1618.70,307.20 C1621.06,304.84 1624.75,302.17 1627.50,301.30 C1630.25,300.43 1635.37,300.50 1639.30,300.70 C1643.23,300.90 1653.07,302.52 1657.00,302.80 C1660.93,303.08 1665.25,303.39 1668.80,302.80 C1672.35,302.21 1679.65,299.59 1683.60,298.40 C1687.55,297.21 1695.25,294.62 1698.40,293.90 C1701.55,293.18 1703.27,292.88 1707.20,293.00 C1711.13,293.12 1725.14,294.56 1727.90,294.80" fill="none" stroke="#ff8420" stroke-width="1.4" stroke-linejoin="round"/>
<path d="M0.00,223.00 C2.28,222.88 13.30,222.10 17.10,222.10 C20.90,222.10 25.46,222.32 28.50,223.00 C31.54,223.68 35.91,226.45 39.90,227.20 C43.89,227.95 53.85,227.08 58.40,228.60 C62.95,230.12 70.77,236.69 74.00,238.60 C77.23,240.51 79.19,239.37 82.60,242.90 C86.01,246.43 94.67,261.99 99.60,265.10 C104.53,268.21 115.43,266.24 119.60,266.20 C123.77,266.16 127.87,266.20 130.90,264.80 C133.93,263.40 136.98,257.37 142.30,255.70 C147.62,254.03 165.48,252.11 170.80,252.30 C176.12,252.49 178.40,256.95 182.20,257.10 C186.00,257.25 193.99,253.97 199.30,253.40 C204.61,252.83 216.69,252.12 222.00,252.80 C227.31,253.48 234.93,257.35 239.10,258.50 C243.27,259.65 250.26,259.69 253.30,261.40 C256.34,263.11 259.23,268.07 261.90,271.30 C264.57,274.53 270.26,283.13 273.30,285.60 C276.34,288.07 282.47,288.93 284.70,289.80 C286.93,290.67 287.49,290.89 290.00,292.10 C292.51,293.31 299.90,296.19 303.50,298.90 C307.10,301.61 313.40,307.91 317.00,312.40 C320.60,316.89 326.90,325.87 330.50,332.60 C334.10,339.33 340.40,356.61 344.00,362.90 C347.60,369.19 353.46,374.40 357.50,379.80 C361.54,385.20 370.26,398.68 374.30,403.40 C378.34,408.12 383.75,412.95 387.80,415.20 C391.85,417.45 400.65,419.62 404.70,420.30 C408.75,420.98 415.05,421.42 418.20,420.30 C421.35,419.18 424.71,413.02 428.30,411.90 C431.89,410.78 441.06,412.90 445.10,411.90 C449.14,410.90 455.00,405.31 458.60,404.40 C462.20,403.49 468.05,405.77 472.10,405.10 C476.15,404.43 484.05,400.61 489.00,399.40 C493.95,398.19 503.80,395.01 509.20,396.00 C514.60,396.99 524.10,406.63 529.50,406.80 C534.90,406.97 545.66,398.11 549.70,397.30 C553.74,396.49 557.11,400.42 559.80,400.70 C562.49,400.98 567.21,401.07 569.90,399.40 C572.59,397.73 577.29,390.00 580.00,388.20 C582.71,386.40 587.52,383.39 590.20,385.90 C592.88,388.41 597.87,399.69 600.10,407.00 C602.33,414.31 604.87,432.15 606.90,440.70 C608.93,449.25 613.06,463.46 615.30,471.10 C617.54,478.74 621.45,489.91 623.70,498.00 C625.95,506.09 629.95,523.69 632.20,531.80 C634.45,539.91 638.13,552.51 640.60,558.80 C643.07,565.09 647.55,572.48 650.70,579.00 C653.85,585.52 660.60,601.18 664.20,607.70 C667.80,614.22 673.87,622.51 677.70,627.90 C681.53,633.29 688.41,644.42 692.90,648.10 C697.39,651.78 706.23,654.82 711.40,655.50 C716.57,656.18 725.85,654.32 731.70,653.20 C737.55,652.08 749.91,652.50 755.30,647.10 C760.69,641.70 768.06,622.23 772.10,612.70 C776.14,603.17 782.45,581.89 785.60,575.60 C788.75,569.31 792.99,566.17 795.70,565.50 C798.41,564.83 803.19,568.35 805.90,570.60 C808.61,572.85 813.31,579.03 816.00,582.40 C818.69,585.77 823.18,593.57 826.10,595.90 C829.02,598.23 835.21,596.75 837.90,599.90 C840.59,603.05 843.38,614.19 846.30,619.50 C849.22,624.81 855.29,634.97 859.80,639.70 C864.31,644.43 875.15,652.60 880.10,655.00 C885.05,657.40 892.87,657.47 896.90,657.70 C900.93,657.93 907.38,657.29 910.30,656.70 C913.22,656.11 915.20,653.62 918.80,653.30 C922.40,652.98 933.26,654.74 937.30,654.30 C941.34,653.86 945.05,650.49 949.10,650.00 C953.15,649.51 962.07,651.05 967.70,650.60 C973.33,650.15 985.46,647.23 991.30,646.60 C997.14,645.97 1006.57,647.25 1011.50,645.90 C1016.43,644.55 1024.26,638.89 1028.30,636.50 C1032.34,634.11 1038.64,632.49 1041.80,628.00 C1044.96,623.51 1049.29,608.87 1052.00,602.80 C1054.71,596.73 1058.97,587.01 1062.10,582.50 C1065.23,577.99 1072.35,572.59 1075.50,569.00 C1078.65,565.41 1082.54,557.93 1085.70,555.60 C1088.86,553.27 1094.25,552.18 1099.20,551.50 C1104.15,550.82 1118.08,551.31 1122.80,550.50 C1127.52,549.69 1131.01,545.40 1134.60,545.40 C1138.19,545.40 1145.89,549.14 1149.70,550.50 C1153.51,551.86 1159.83,554.84 1163.20,555.60 C1166.57,556.36 1171.87,552.64 1175.00,556.20 C1178.13,559.76 1183.87,577.25 1186.70,582.30 C1189.53,587.35 1193.72,588.49 1196.20,594.10 C1198.68,599.71 1202.51,617.97 1205.30,624.40 C1208.09,630.83 1214.41,640.27 1217.10,642.30 C1219.79,644.33 1222.81,637.93 1225.50,639.60 C1228.19,641.27 1234.61,652.55 1237.30,654.80 C1239.99,657.05 1243.09,655.69 1245.70,656.50 C1248.31,657.31 1253.97,660.99 1256.90,660.90 C1259.83,660.81 1264.91,658.19 1267.70,655.80 C1270.49,653.41 1275.11,648.31 1277.80,643.00 C1280.49,637.69 1285.21,621.63 1287.90,616.00 C1290.59,610.37 1295.31,603.95 1298.00,600.80 C1300.69,597.65 1305.41,594.33 1308.10,592.40 C1310.79,590.47 1315.51,588.19 1318.20,586.30 C1320.89,584.41 1325.38,579.99 1328.30,578.20 C1331.22,576.41 1336.05,574.29 1340.10,572.90 C1344.15,571.51 1354.65,569.24 1358.70,567.80 C1362.75,566.36 1367.58,563.85 1370.50,562.10 C1373.42,560.35 1377.91,555.47 1380.60,554.70 C1383.29,553.93 1387.78,555.31 1390.70,556.30 C1393.62,557.29 1399.58,560.97 1402.50,562.10 C1405.42,563.23 1410.12,564.36 1412.60,564.80 C1415.08,565.24 1418.62,564.87 1421.10,565.40 C1423.58,565.93 1428.51,569.24 1431.20,568.80 C1433.89,568.36 1438.61,563.58 1441.30,562.10 C1443.99,560.62 1448.71,561.30 1451.40,557.70 C1454.09,554.10 1458.67,540.73 1461.50,535.10 C1464.33,529.47 1469.91,524.13 1472.60,515.50 C1475.29,506.87 1479.14,475.95 1481.70,470.40 C1484.26,464.85 1489.08,473.70 1491.80,473.90 C1494.52,474.10 1497.77,473.66 1502.10,471.90 C1506.43,470.14 1518.59,464.95 1524.30,460.70 C1530.01,456.45 1539.59,444.41 1544.90,440.00 C1550.21,435.59 1560.17,428.97 1564.10,427.60 C1568.03,426.23 1572.04,429.11 1574.40,429.70 C1576.76,430.29 1579.44,431.61 1581.80,432.00 C1584.16,432.39 1589.54,431.73 1592.10,432.60 C1594.66,433.47 1598.04,435.86 1601.00,438.50 C1603.96,441.14 1610.77,450.12 1614.30,452.40 C1617.83,454.68 1623.77,455.36 1627.50,455.60 C1631.23,455.84 1638.55,454.39 1642.30,454.20 C1646.05,454.01 1651.67,452.95 1655.60,454.20 C1659.53,455.45 1667.67,460.77 1671.80,463.60 C1675.93,466.43 1682.67,472.17 1686.60,475.40 C1690.53,478.63 1697.37,484.73 1701.30,487.80 C1705.23,490.87 1712.55,496.32 1716.10,498.40 C1719.65,500.48 1726.33,502.73 1727.90,503.40" fill="none" stroke="#ff8420" stroke-width="1.4" stroke-linejoin="round"/>
<path d="M0.00,128.20 C1.90,127.95 6.65,126.80 11.40,126.70 C16.15,126.60 22.33,127.07 28.50,127.60 C34.67,128.13 43.18,129.52 48.40,129.90 C53.62,130.28 54.58,128.38 59.80,129.90 C65.02,131.42 73.07,135.12 79.70,139.00 C86.33,142.88 92.95,148.22 99.60,153.20 C106.25,158.18 113.43,164.40 119.60,168.90 C125.77,173.40 129.97,176.42 136.60,180.20 C143.23,183.98 151.80,187.80 159.40,191.60 C167.00,195.40 174.60,200.00 182.20,203.00 C189.80,206.00 196.93,208.17 205.00,209.60 C213.07,211.03 222.07,210.08 230.60,211.60 C239.13,213.12 249.08,216.10 256.20,218.70 C263.32,221.30 267.67,225.37 273.30,227.20 C278.93,229.03 283.28,228.15 290.00,229.70 C296.72,231.25 306.85,233.40 313.60,236.50 C320.35,239.60 324.32,243.53 330.50,248.30 C336.68,253.07 342.83,259.48 350.70,265.10 C358.57,270.72 370.38,277.50 377.70,282.00 C385.02,286.50 388.42,288.17 394.60,292.10 C400.78,296.03 408.07,301.10 414.80,305.60 C421.53,310.10 428.25,315.17 435.00,319.10 C441.75,323.03 449.12,326.67 455.30,329.20 C461.48,331.73 465.92,333.07 472.10,334.30 C478.28,335.53 485.65,336.03 492.40,336.60 C499.15,337.17 506.98,338.08 512.60,337.70 C518.22,337.32 520.48,336.55 526.10,334.30 C531.72,332.05 540.12,327.30 546.30,324.20 C552.48,321.10 557.58,318.52 563.20,315.70 C568.82,312.88 575.50,309.10 580.00,307.30 C584.50,305.50 586.57,304.62 590.20,304.90 C593.83,305.18 597.90,306.75 601.80,309.00 C605.70,311.25 609.95,315.58 613.60,318.40 C617.25,321.22 618.92,321.00 623.70,325.90 C628.48,330.80 635.55,340.78 642.30,347.80 C649.05,354.82 658.87,363.23 664.20,368.00 C669.53,372.77 669.80,372.18 674.30,376.40 C678.80,380.62 685.58,387.95 691.20,393.30 C696.82,398.65 702.38,404.00 708.00,408.50 C713.62,413.00 719.83,416.05 724.90,420.30 C729.97,424.55 732.78,428.63 738.40,434.00 C744.02,439.37 751.85,445.77 758.60,452.50 C765.35,459.23 772.72,468.22 778.90,474.40 C785.08,480.58 790.08,486.12 795.70,489.60 C801.32,493.08 806.42,493.33 812.60,495.30 C818.78,497.27 826.05,498.98 832.80,501.40 C839.55,503.82 846.35,507.10 853.10,509.80 C859.85,512.50 866.57,515.17 873.30,517.60 C880.03,520.03 885.63,522.57 893.50,524.40 C901.37,526.23 912.63,527.62 920.50,528.60 C928.37,529.58 933.97,529.30 940.70,530.30 C947.43,531.30 954.17,533.48 960.90,534.60 C967.63,535.72 974.35,536.32 981.10,537.00 C987.85,537.68 995.77,538.53 1001.40,538.70 C1007.03,538.87 1010.42,538.85 1014.90,538.00 C1019.38,537.15 1023.82,535.28 1028.30,533.60 C1032.78,531.92 1037.30,530.42 1041.80,527.90 C1046.30,525.38 1050.80,521.08 1055.30,518.50 C1059.80,515.92 1063.18,514.10 1068.80,512.40 C1074.42,510.70 1082.25,509.53 1089.00,508.30 C1095.75,507.07 1102.55,505.55 1109.30,505.00 C1116.05,504.45 1123.88,504.88 1129.50,505.00 C1135.12,505.12 1137.95,506.38 1143.00,505.70 C1148.05,505.02 1154.18,502.70 1159.80,500.90 C1165.42,499.10 1171.08,497.18 1176.70,494.90 C1182.32,492.62 1188.45,491.18 1193.50,487.20 C1198.55,483.22 1202.50,476.78 1207.00,471.00 C1211.50,465.22 1214.88,459.80 1220.50,452.50 C1226.12,445.20 1234.38,436.07 1240.70,427.20 C1247.02,418.33 1254.03,405.65 1258.40,399.30 C1262.77,392.95 1264.78,391.92 1266.90,389.10 C1269.02,386.28 1269.57,385.48 1271.10,382.40 C1272.63,379.32 1274.28,373.70 1276.10,370.60 C1277.92,367.50 1280.17,365.92 1282.00,363.80 C1283.83,361.68 1285.40,359.52 1287.10,357.90 C1288.80,356.28 1290.23,355.35 1292.20,354.10 C1294.17,352.85 1296.10,351.58 1298.90,350.40 C1301.70,349.22 1305.63,348.07 1309.00,347.00 C1312.37,345.93 1315.60,344.88 1319.10,344.00 C1322.60,343.12 1326.08,342.40 1330.00,341.70 C1333.92,341.00 1337.75,340.43 1342.60,339.80 C1347.45,339.17 1354.88,338.42 1359.10,337.90 C1363.32,337.38 1364.32,337.43 1367.90,336.70 C1371.48,335.97 1377.02,334.03 1380.60,333.50 C1384.18,332.97 1386.23,333.18 1389.40,333.50 C1392.57,333.82 1396.22,333.82 1399.60,335.40 C1402.98,336.98 1406.12,340.37 1409.70,343.00 C1413.28,345.63 1417.52,349.10 1421.10,351.20 C1424.68,353.30 1427.83,353.48 1431.20,355.60 C1434.57,357.72 1437.93,361.37 1441.30,363.90 C1444.67,366.43 1448.03,368.48 1451.40,370.80 C1454.77,373.12 1458.13,375.48 1461.50,377.80 C1464.87,380.12 1468.52,381.72 1471.60,384.70 C1474.68,387.68 1476.63,392.28 1480.00,395.70 C1483.37,399.12 1487.87,403.87 1491.80,405.20 C1495.73,406.53 1498.68,404.78 1503.60,403.70 C1508.52,402.62 1515.40,400.13 1521.30,398.70 C1527.20,397.27 1532.12,396.58 1539.00,395.10 C1545.88,393.62 1555.72,390.58 1562.60,389.80 C1569.48,389.02 1575.38,390.15 1580.30,390.40 C1585.22,390.65 1588.17,391.98 1592.10,391.30 C1596.03,390.62 1599.47,388.17 1603.90,386.30 C1608.33,384.43 1613.78,381.48 1618.70,380.10 C1623.62,378.72 1628.00,378.25 1633.40,378.00 C1638.80,377.75 1646.18,378.20 1651.10,378.60 C1656.02,379.00 1657.98,379.42 1662.90,380.40 C1667.82,381.38 1674.68,382.93 1680.60,384.50 C1686.52,386.07 1692.48,387.68 1698.40,389.80 C1704.32,391.92 1711.18,395.62 1716.10,397.20 C1721.02,398.78 1725.93,398.95 1727.90,399.30" fill="none" stroke="#3cc9c9" stroke-width="3.2" stroke-linejoin="round" stroke-linecap="round"/>
<line x1="1278" y1="99.9" x2="1747.9" y2="349.9" stroke="#3b5bdb" stroke-width="1.1"/>
<line x1="1350.1" y1="466.4" x2="1747.9" y2="354.5" stroke="#f01010" stroke-width="1.5"/>
<polygon points="1273.2,82.9 1282.3999999999999,82.9 1277.8,91.9" fill="#008000"/>
<polygon points="1611.0,263.0 1620.1999999999998,263.0 1615.6,272.0" fill="#008000"/>
<polygon points="1349.8,474.6 1354.3999999999999,482.6 1345.2,482.6" fill="#f00"/>
<polygon points="1492.5,434.6 1497.1,442.6 1487.9,442.6" fill="#f00"/>
<defs><clipPath id="ca"><rect x="0" y="700" width="1895" height="77.3"/></clipPath><clipPath id="cb"><rect x="0" y="846.1" width="1895" height="60"/></clipPath></defs>
<polygon points="-1.0,777.3 -1.0,815.0 9.6,821.4 19.0,818.1 30.2,823.7 39.8,822.3 49.4,819.3 60.5,819.8 70.2,828.0 81.5,820.7 91.0,832.0 100.5,835.0 111.7,831.0 121.4,829.2 132.5,814.4 142.1,807.7 151.9,823.3 162.9,820.2 172.5,824.5 183.7,827.5 193.5,817.6 203.1,814.6 214.1,811.1 223.9,806.3 235.1,826.6 244.6,824.5 254.1,820.7 265.6,834.1 275.0,835.3 286.2,824.5 295.6,826.6 305.5,825.4 316.7,837.2 326.1,838.9 337.5,847.7 346.9,846.8 356.5,837.4 367.7,840.0 377.3,843.6 388.4,835.9 398.2,826.3 407.8,831.1 419.2,827.7 428.7,822.5 439.8,823.4 449.5,827.3 459.2,822.5 470.4,810.0 479.9,811.4 489.6,810.2 500.5,803.3 510.4,802.8 521.4,796.0 530.9,796.0 540.6,805.9 552.0,803.2 561.6,788.3 572.6,792.2 582.1,804.9 592.0,831.6 603.0,846.5 612.4,855.1 623.6,847.9 633.4,855.1 643.0,830.2 654.0,837.2 663.8,830.6 675.0,831.9 684.4,829.9 694.0,830.2 705.6,823.7 715.0,815.3 726.0,818.2 735.9,821.2 745.6,814.3 756.6,822.2 766.2,819.6 777.3,817.9 787.0,817.4 796.6,825.6 807.9,832.5 817.4,840.0 828.5,834.5 838.1,835.7 847.7,843.9 859.0,836.7 868.6,825.9 879.8,829.9 889.5,817.7 898.9,814.5 910.3,812.6 919.9,808.8 931.1,801.1 940.7,805.9 950.0,812.2 961.2,809.3 971.1,808.0 982.1,808.9 991.6,808.1 1001.4,814.1 1012.3,818.0 1021.9,811.9 1033.4,810.2 1043.0,813.8 1052.6,817.2 1063.8,812.9 1073.4,820.4 1084.5,823.9 1094.1,815.0 1103.7,806.0 1114.9,802.4 1124.5,808.4 1135.8,805.9 1145.5,797.8 1154.8,797.8 1166.1,793.9 1175.9,799.2 1186.9,777.3 1196.3,781.6 1206.0,768.4 1217.4,765.8 1227.1,788.4 1238.0,776.1 1247.8,781.6 1257.5,775.6 1268.3,783.3 1278.0,780.4 1289.6,812.4 1299.0,821.0 1308.5,822.1 1319.8,821.5 1329.3,822.1 1340.5,823.9 1350.1,821.3 1359.8,818.7 1371.0,810.2 1380.5,811.9 1391.7,813.8 1401.4,816.7 1411.0,808.6 1422.1,806.7 1431.7,806.0 1441.3,813.6 1452.4,804.7 1462.2,806.7 1473.5,813.8 1483.0,815.0 1492.7,816.2 1503.9,810.7 1513.5,812.0 1524.6,811.5 1534.2,814.4 1543.8,817.5 1555.1,817.0 1564.5,812.0 1575.8,819.7 1585.6,819.7 1594.9,803.3 1606.1,790.6 1615.6,785.8 1627.0,794.9 1636.5,810.9 1646.3,813.8 1657.4,816.8 1667.0,822.3 1678.2,826.9 1687.8,829.7 1697.4,830.5 1708.5,830.9 1718.1,826.3 1729.6,825.6 1729.6,777.3" fill="#b0b0b0" clip-path="url(#ca)"/>
<polygon points="-1.0,846.1 -1.0,815.0 9.6,821.4 19.0,818.1 30.2,823.7 39.8,822.3 49.4,819.3 60.5,819.8 70.2,828.0 81.5,820.7 91.0,832.0 100.5,835.0 111.7,831.0 121.4,829.2 132.5,814.4 142.1,807.7 151.9,823.3 162.9,820.2 172.5,824.5 183.7,827.5 193.5,817.6 203.1,814.6 214.1,811.1 223.9,806.3 235.1,826.6 244.6,824.5 254.1,820.7 265.6,834.1 275.0,835.3 286.2,824.5 295.6,826.6 305.5,825.4 316.7,837.2 326.1,838.9 337.5,847.7 346.9,846.8 356.5,837.4 367.7,840.0 377.3,843.6 388.4,835.9 398.2,826.3 407.8,831.1 419.2,827.7 428.7,822.5 439.8,823.4 449.5,827.3 459.2,822.5 470.4,810.0 479.9,811.4 489.6,810.2 500.5,803.3 510.4,802.8 521.4,796.0 530.9,796.0 540.6,805.9 552.0,803.2 561.6,788.3 572.6,792.2 582.1,804.9 592.0,831.6 603.0,846.5 612.4,855.1 623.6,847.9 633.4,855.1 643.0,830.2 654.0,837.2 663.8,830.6 675.0,831.9 684.4,829.9 694.0,830.2 705.6,823.7 715.0,815.3 726.0,818.2 735.9,821.2 745.6,814.3 756.6,822.2 766.2,819.6 777.3,817.9 787.0,817.4 796.6,825.6 807.9,832.5 817.4,840.0 828.5,834.5 838.1,835.7 847.7,843.9 859.0,836.7 868.6,825.9 879.8,829.9 889.5,817.7 898.9,814.5 910.3,812.6 919.9,808.8 931.1,801.1 940.7,805.9 950.0,812.2 961.2,809.3 971.1,808.0 982.1,808.9 991.6,808.1 1001.4,814.1 1012.3,818.0 1021.9,811.9 1033.4,810.2 1043.0,813.8 1052.6,817.2 1063.8,812.9 1073.4,820.4 1084.5,823.9 1094.1,815.0 1103.7,806.0 1114.9,802.4 1124.5,808.4 1135.8,805.9 1145.5,797.8 1154.8,797.8 1166.1,793.9 1175.9,799.2 1186.9,777.3 1196.3,781.6 1206.0,768.4 1217.4,765.8 1227.1,788.4 1238.0,776.1 1247.8,781.6 1257.5,775.6 1268.3,783.3 1278.0,780.4 1289.6,812.4 1299.0,821.0 1308.5,822.1 1319.8,821.5 1329.3,822.1 1340.5,823.9 1350.1,821.3 1359.8,818.7 1371.0,810.2 1380.5,811.9 1391.7,813.8 1401.4,816.7 1411.0,808.6 1422.1,806.7 1431.7,806.0 1441.3,813.6 1452.4,804.7 1462.2,806.7 1473.5,813.8 1483.0,815.0 1492.7,816.2 1503.9,810.7 1513.5,812.0 1524.6,811.5 1534.2,814.4 1543.8,817.5 1555.1,817.0 1564.5,812.0 1575.8,819.7 1585.6,819.7 1594.9,803.3 1606.1,790.6 1615.6,785.8 1627.0,794.9 1636.5,810.9 1646.3,813.8 1657.4,816.8 1667.0,822.3 1678.2,826.9 1687.8,829.7 1697.4,830.5 1708.5,830.9 1718.1,826.3 1729.6,825.6 1729.6,846.1" fill="#b0b0b0" clip-path="url(#cb)"/>
<polyline points="-1.0,815.0 9.6,821.4 19.0,818.1 30.2,823.7 39.8,822.3 49.4,819.3 60.5,819.8 70.2,828.0 81.5,820.7 91.0,832.0 100.5,835.0 111.7,831.0 121.4,829.2 132.5,814.4 142.1,807.7 151.9,823.3 162.9,820.2 172.5,824.5 183.7,827.5 193.5,817.6 203.1,814.6 214.1,811.1 223.9,806.3 235.1,826.6 244.6,824.5 254.1,820.7 265.6,834.1 275.0,835.3 286.2,824.5 295.6,826.6 305.5,825.4 316.7,837.2 326.1,838.9 337.5,847.7 346.9,846.8 356.5,837.4 367.7,840.0 377.3,843.6 388.4,835.9 398.2,826.3 407.8,831.1 419.2,827.7 428.7,822.5 439.8,823.4 449.5,827.3 459.2,822.5 470.4,810.0 479.9,811.4 489.6,810.2 500.5,803.3 510.4,802.8 521.4,796.0 530.9,796.0 540.6,805.9 552.0,803.2 561.6,788.3 572.6,792.2 582.1,804.9 592.0,831.6 603.0,846.5 612.4,855.1 623.6,847.9 633.4,855.1 643.0,830.2 654.0,837.2 663.8,830.6 675.0,831.9 684.4,829.9 694.0,830.2 705.6,823.7 715.0,815.3 726.0,818.2 735.9,821.2 745.6,814.3 756.6,822.2 766.2,819.6 777.3,817.9 787.0,817.4 796.6,825.6 807.9,832.5 817.4,840.0 828.5,834.5 838.1,835.7 847.7,843.9 859.0,836.7 868.6,825.9 879.8,829.9 889.5,817.7 898.9,814.5 910.3,812.6 919.9,808.8 931.1,801.1 940.7,805.9 950.0,812.2 961.2,809.3 971.1,808.0 982.1,808.9 991.6,808.1 1001.4,814.1 1012.3,818.0 1021.9,811.9 1033.4,810.2 1043.0,813.8 1052.6,817.2 1063.8,812.9 1073.4,820.4 1084.5,823.9 1094.1,815.0 1103.7,806.0 1114.9,802.4 1124.5,808.4 1135.8,805.9 1145.5,797.8 1154.8,797.8 1166.1,793.9 1175.9,799.2 1186.9,777.3 1196.3,781.6 1206.0,768.4 1217.4,765.8 1227.1,788.4 1238.0,776.1 1247.8,781.6 1257.5,775.6 1268.3,783.3 1278.0,780.4 1289.6,812.4 1299.0,821.0 1308.5,822.1 1319.8,821.5 1329.3,822.1 1340.5,823.9 1350.1,821.3 1359.8,818.7 1371.0,810.2 1380.5,811.9 1391.7,813.8 1401.4,816.7 1411.0,808.6 1422.1,806.7 1431.7,806.0 1441.3,813.6 1452.4,804.7 1462.2,806.7 1473.5,813.8 1483.0,815.0 1492.7,816.2 1503.9,810.7 1513.5,812.0 1524.6,811.5 1534.2,814.4 1543.8,817.5 1555.1,817.0 1564.5,812.0 1575.8,819.7 1585.6,819.7 1594.9,803.3 1606.1,790.6 1615.6,785.8 1627.0,794.9 1636.5,810.9 1646.3,813.8 1657.4,816.8 1667.0,822.3 1678.2,826.9 1687.8,829.7 1697.4,830.5 1708.5,830.9 1718.1,826.3 1729.6,825.6" fill="none" stroke="#000" stroke-width="1.8" stroke-linejoin="round"/>
<line x1="0" y1="713.9" x2="1895.8" y2="713.9" stroke="#b3b3b3" stroke-width="2"/>
<line x1="0" y1="911.9" x2="1896.55" y2="911.9" stroke="#959595" stroke-width="1.8"/>
<line x1="1895.8" y1="59.5" x2="1895.8" y2="912.8" stroke="#808080" stroke-width="1.6"/>
<line x1="55.8" y1="912" x2="55.8" y2="920.5" stroke="#808080" stroke-width="1.5"/>
<text x="56.1" y="938" font-size="17" fill="#333" text-anchor="middle" letter-spacing="0.6">Feb</text>
<line x1="300.4" y1="912" x2="300.4" y2="920.5" stroke="#808080" stroke-width="1.5"/>
<text x="300.7" y="938" font-size="17" fill="#333" text-anchor="middle" letter-spacing="0.6">Mar</text>
<line x1="577.3" y1="912" x2="577.3" y2="920.5" stroke="#808080" stroke-width="1.5"/>
<text x="577.6" y="938" font-size="17" fill="#333" text-anchor="middle" letter-spacing="0.6">Apr</text>
<line x1="833.3" y1="912" x2="833.3" y2="920.5" stroke="#808080" stroke-width="1.5"/>
<text x="833.6" y="938" font-size="17" fill="#333" text-anchor="middle" letter-spacing="0.6">May</text>
<line x1="1098.9" y1="912" x2="1098.9" y2="920.5" stroke="#808080" stroke-width="1.5"/>
<text x="1099.2" y="938" font-size="17" fill="#333" text-anchor="middle" letter-spacing="0.6">Jun</text>
<line x1="1366.3" y1="912" x2="1366.3" y2="920.5" stroke="#808080" stroke-width="1.5"/>
<text x="1366.6" y="938" font-size="17" fill="#333" text-anchor="middle" letter-spacing="0.6">Jul</text>
<line x1="1641.2" y1="912" x2="1641.2" y2="920.5" stroke="#808080" stroke-width="1.5"/>
<text x="1641.5" y="938" font-size="17" fill="#333" text-anchor="middle" letter-spacing="0.6">Aug</text>
<line x1="1895.8" y1="86.1" x2="1900.8" y2="86.1" stroke="#808080" stroke-width="1.4"/>
<text x="1904.3" y="90.7" font-size="17" fill="#333" letter-spacing="0.35">8,000</text>
<line x1="1895.8" y1="220.7" x2="1900.8" y2="220.7" stroke="#808080" stroke-width="1.4"/>
<text x="1904.3" y="225.3" font-size="17" fill="#333" letter-spacing="0.35">7,500</text>
<line x1="1895.8" y1="355.2" x2="1900.8" y2="355.2" stroke="#808080" stroke-width="1.4"/>
<text x="1904.3" y="359.9" font-size="17" fill="#333" letter-spacing="0.35">7,000</text>
<line x1="1895.8" y1="489.8" x2="1900.8" y2="489.8" stroke="#808080" stroke-width="1.4"/>
<text x="1904.3" y="494.4" font-size="17" fill="#333" letter-spacing="0.35">6,500</text>
<line x1="1895.8" y1="624.4" x2="1900.8" y2="624.4" stroke="#808080" stroke-width="1.4"/>
<text x="1904.3" y="629.0" font-size="17" fill="#333" letter-spacing="0.35">6,000</text>
<line x1="1895.8" y1="777.3" x2="1900.8" y2="777.3" stroke="#808080" stroke-width="1.4"/>
<text x="1904.6" y="782.0" font-size="17" fill="#222" letter-spacing="0.3">70</text>
<line x1="1895.8" y1="846.1" x2="1900.8" y2="846.1" stroke="#808080" stroke-width="1.4"/>
<text x="1904.6" y="850.8" font-size="17" fill="#222" letter-spacing="0.3">30</text>
<path d="M1882.4,294.9 L1895.5,282.59999999999997 Q1896.5,282.09999999999997 1898,282.09999999999997 L1951,282.09999999999997 Q1954,282.09999999999997 1954,285.09999999999997 L1954,304.7 Q1954,307.7 1951,307.7 L1898,307.7 Q1896.5,307.7 1895.5,307.2 Z" fill="#fa861f"/><text x="1904.3" y="300.9" font-size="17" fill="#111" letter-spacing="0.5">7,226</text>
<path d="M1882.4,399.5 L1895.5,387.2 Q1896.5,386.7 1898,386.7 L1951,386.7 Q1954,386.7 1954,389.7 L1954,409.3 Q1954,412.3 1951,412.3 L1898,412.3 Q1896.5,412.3 1895.5,411.8 Z" fill="#3ccbcb"/><text x="1904.3" y="405.5" font-size="17" fill="#111" letter-spacing="0.5">6,840</text>
<path d="M1882.4,448.0 L1895.5,435.7 Q1896.5,435.2 1898,435.2 L1975.6,435.2 Q1978.6,435.2 1978.6,438.2 L1978.6,457.8 Q1978.6,460.8 1975.6,460.8 L1898,460.8 Q1896.5,460.8 1895.5,460.3 Z" fill="#605ca8"/><text x="1904.3" y="454.0" font-size="17" fill="#fff" letter-spacing="0.5">6,659.72</text>
<path d="M1882.4,503.8 L1895.5,491.5 Q1896.5,491.0 1898,491.0 L1951,491.0 Q1954,491.0 1954,494.0 L1954,513.6 Q1954,516.6 1951,516.6 L1898,516.6 Q1896.5,516.6 1895.5,516.1 Z" fill="#fa861f"/><text x="1904.3" y="509.8" font-size="17" fill="#111" letter-spacing="0.5">6,453</text>
<path d="M1882.4,825.8 L1895.5,813.5 Q1896.5,813.0 1898,813.0 L1925.8,813.0 Q1928.8,813.0 1928.8,816.0 L1928.8,835.5999999999999 Q1928.8,838.5999999999999 1925.8,838.5999999999999 L1898,838.5999999999999 Q1896.5,838.5999999999999 1895.5,838.0999999999999 Z" fill="#000"/><text x="1904.3" y="831.8" font-size="17" fill="#fff" letter-spacing="0.5">42</text>
<rect x="2" y="598" width="183" height="37" fill="#fff" fill-opacity="0.8"/>
<rect x="188" y="598" width="214" height="37" fill="#fff" fill-opacity="0.8"/>
<text x="7.3" y="622" font-size="16" font-weight="bold" fill="#222" textLength="47.2" lengthAdjust="spacingAndGlyphs">VWAP</text>
<text x="60.3" y="622" font-size="16.5" fill="#333" textLength="60.1" lengthAdjust="spacingAndGlyphs">20 1 2 3</text>
<g fill="#999"><circle cx="138.9" cy="617.9" r="6.77"/><rect x="137.02" y="608.50" width="3.76" height="18.80" transform="rotate(0.0 138.9 617.9)"/><rect x="137.02" y="608.50" width="3.76" height="18.80" transform="rotate(45.0 138.9 617.9)"/><rect x="137.02" y="608.50" width="3.76" height="18.80" transform="rotate(90.0 138.9 617.9)"/><rect x="137.02" y="608.50" width="3.76" height="18.80" transform="rotate(135.0 138.9 617.9)"/><circle cx="138.9" cy="617.9" r="2.82" fill="#fff"/></g>
<path d="M160.1,611.5 L173.1,624.5 M173.1,611.5 L160.1,624.5" stroke="#9c9c9c" stroke-width="4.0" stroke-linecap="butt"/>
<text x="195.2" y="622" font-size="16" font-weight="bold" fill="#222" textLength="105.4" lengthAdjust="spacingAndGlyphs">AUTO TREND</text>
<text x="306.3" y="622" font-size="16.5" fill="#333" textLength="36.6" lengthAdjust="spacingAndGlyphs">4 6 2</text>
<g fill="#999"><circle cx="361.5" cy="617.9" r="6.77"/><rect x="359.62" y="608.50" width="3.76" height="18.80" transform="rotate(0.0 361.5 617.9)"/><rect x="359.62" y="608.50" width="3.76" height="18.80" transform="rotate(45.0 361.5 617.9)"/><rect x="359.62" y="608.50" width="3.76" height="18.80" transform="rotate(90.0 361.5 617.9)"/><rect x="359.62" y="608.50" width="3.76" height="18.80" transform="rotate(135.0 361.5 617.9)"/><circle cx="361.5" cy="617.9" r="2.82" fill="#fff"/></g>
<path d="M382.1,611.5 L395.1,624.5 M395.1,611.5 L382.1,624.5" stroke="#9c9c9c" stroke-width="4.0" stroke-linecap="butt"/>
<rect x="2" y="728" width="150" height="38" fill="#fff" fill-opacity="0.8"/>
<text x="7.4" y="753" font-size="15.5" font-weight="bold" fill="#222" textLength="24.8" lengthAdjust="spacingAndGlyphs">RSI</text>
<text x="37.6" y="753" font-size="16" fill="#333" textLength="18.6" lengthAdjust="spacingAndGlyphs">14</text>
<g fill="#999"><circle cx="73.9" cy="749.4" r="6.77"/><rect x="72.02" y="740.00" width="3.76" height="18.80" transform="rotate(0.0 73.9 749.4)"/><rect x="72.02" y="740.00" width="3.76" height="18.80" transform="rotate(45.0 73.9 749.4)"/><rect x="72.02" y="740.00" width="3.76" height="18.80" transform="rotate(90.0 73.9 749.4)"/><rect x="72.02" y="740.00" width="3.76" height="18.80" transform="rotate(135.0 73.9 749.4)"/><circle cx="73.9" cy="749.4" r="2.82" fill="#fff"/></g>
<path d="M95.3,743.2 L108.3,756.2 M108.3,743.2 L95.3,756.2" stroke="#9c9c9c" stroke-width="4.0" stroke-linecap="butt"/>
<path d="M137,759 L137,740.5 M128.5,749 L137,740.3 L145.5,749" stroke="#777" stroke-width="1.6" fill="none"/>
<line x1="0" y1="59.5" x2="1985" y2="59.5" stroke="#6a6a6a" stroke-width="1.2"/>
<text x="10.9" y="34.8" font-size="20" font-weight="bold" fill="#333" textLength="49.0" lengthAdjust="spacingAndGlyphs">Daily</text><polygon points="70.4,25 85.9,25 78.15,33.2" fill="#555"/>
<text x="117.0" y="34.8" font-size="20" font-weight="bold" fill="#333" textLength="93.7" lengthAdjust="spacingAndGlyphs">Technical</text><polygon points="220.2,25 235.7,25 227.95,33.2" fill="#555"/>
<text x="268.1" y="34.8" font-size="20" font-weight="bold" fill="#333" textLength="72.0" lengthAdjust="spacingAndGlyphs">Display</text><polygon points="350.2,25 365.7,25 357.95,33.2" fill="#555"/>
<text x="397.8" y="34.8" font-size="20" font-weight="bold" fill="#333" textLength="50.6" lengthAdjust="spacingAndGlyphs">More</text><polygon points="458.0,25 473.5,25 465.75,33.2" fill="#555"/>
<path d="M507.9,35 L507.9,19.5 Q507.9,18 509.4,18 L514.9,18 L518.3,21.1 L524.2,21.1 Q525.6,21.1 525.6,22.6 L525.6,23.8" fill="none" stroke="#333" stroke-width="1.5" stroke-linejoin="round"/>
<path d="M508.6,36.4 L513.6,26.4 Q514.2,25.3 515.5,25.3 L529.2,25.3 Q530.6,25.3 530,26.6 L525.8,35.2 Q525.2,36.4 523.9,36.4 Z" fill="#333"/>
<path d="M507.9,34.5 Q507.9,36.4 509.6,36.4" fill="none" stroke="#333" stroke-width="1.5"/>
<path d="M563.9,15 L580.9,15 L585.7,19.6 L585.7,37 Q585.7,39 583.7,39 L563.9,39 Q561.9,39 561.9,37 L561.9,17 Q561.9,15 563.9,15 Z" fill="#333"/>
<rect x="568" y="16.3" width="11" height="7.3" fill="#fff"/><rect x="575.2" y="18.1" width="2.6" height="3.6" fill="#333"/>
<rect x="565.3" y="27" width="16.8" height="10" rx="1.5" fill="#fff"/>
<rect x="615.2" y="22.6" width="23.7" height="5.3" fill="#000"/>
<rect x="672.6" y="22.6" width="24.3" height="5.3" fill="#000"/><rect x="682.1" y="13.7" width="5.5" height="23.4" fill="#000"/>
<line x1="638.1" y1="44.3" x2="638.1" y2="59" stroke="#c8c8c8" stroke-width="1.8"/>
<line x1="695.8" y1="44.3" x2="695.8" y2="59" stroke="#c8c8c8" stroke-width="1.8"/>
<line x1="1982" y1="8" x2="1982" y2="50.5" stroke="#d0d0d0" stroke-width="1.3"/>
</svg></body></html>
